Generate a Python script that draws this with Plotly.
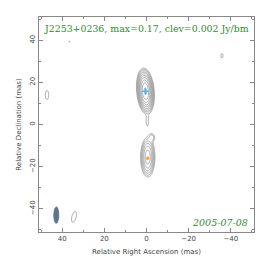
import numpy as np
import plotly.graph_objects as go

# ---- data -------------------------------------------------------------
title_text = "J2253+0236, max=0.17, clev=0.002 Jy/bm"
date_text = "2005-07-08"
clev = 0.002
level_step_log2 = 0.7

# model components (RA offset mas, Dec offset mas, peak Jy/bm, sigma minor, sigma major, PA deg)
comp_ra = [0.5, -0.4, -0.6, -2.6, 47.2, 34.4, -35.8, 36.5]
comp_dec = [15.8, 1.5, -15.5, -6.0, 14.0, -43.8, 32.6, 39.3]
comp_peak = [0.17, 0.0032, 0.032, 0.004, 0.0025, 0.0026, 0.0024, 0.0022]
comp_smin = [1.4, 0.55, 1.45, 1.0, 1.2, 1.4, 0.8, 0.6]
comp_smaj = [3.7, 2.2, 4.0, 1.3, 3.2, 3.6, 1.8, 0.6]
comp_pa = [5, 0, 0, 10, 0, -15, 0, 0]

# beam (center RA, Dec, FWHM major, minor, PA)
beam_ra = 42.8
beam_dec = -43.0
beam_maj = 8.0
beam_min = 2.6
beam_pa = 0

# peak markers
peak1_ra, peak1_dec = [0.5], [15.8]
peak2_ra, peak2_dec = [-0.6], [-16.0]

# ---- image --------------------------------------------------------------
gx = np.arange(-51, 51.01, 0.25)
gy = np.arange(-51, 51.01, 0.25)
X, Y = np.meshgrid(gx, gy)
img = np.zeros_like(X)
for ra, dec, pk, smn, smj, pa in zip(comp_ra, comp_dec, comp_peak, comp_smin, comp_smaj, comp_pa):
    t = np.deg2rad(pa)
    dx, dy = X - ra, Y - dec
    a = dx * np.sin(t) + dy * np.cos(t)
    b = dx * np.cos(t) - dy * np.sin(t)
    img += pk * np.exp(-0.5 * (a ** 2 / smj ** 2 + b ** 2 / smn ** 2))
z = np.log2(np.maximum(img, 1e-9) / clev)

fig = go.Figure()
fig.add_trace(go.Contour(
    x=gx, y=gy, z=z,
    contours=dict(start=0, end=8, size=level_step_log2, coloring="lines"),
    colorscale=[[0, "#909090"], [1, "#909090"]],
    line=dict(width=0.8), showscale=False, hoverinfo="skip",
))

# beam ellipse
th = np.linspace(0, 2 * np.pi, 80)
tb = np.deg2rad(beam_pa)
bx = beam_ra + (beam_min / 2) * np.cos(th) * np.cos(tb) + (beam_maj / 2) * np.sin(th) * np.sin(tb)
by = beam_dec - (beam_min / 2) * np.cos(th) * np.sin(tb) + (beam_maj / 2) * np.sin(th) * np.cos(tb)
fig.add_trace(go.Scatter(x=bx, y=by, mode="lines", fill="toself",
                         fillcolor="#5f738a", line=dict(color="#5f738a", width=0.5),
                         hoverinfo="skip"))

fig.add_trace(go.Scatter(x=peak1_ra, y=peak1_dec, mode="markers",
                         marker=dict(symbol="cross-thin", size=5, line=dict(color="#55b4f5", width=1.5))))
fig.add_trace(go.Scatter(x=peak2_ra, y=peak2_dec, mode="markers",
                         marker=dict(symbol="square", size=3, color="#ffa020")))

axis_common = dict(
    showgrid=False, zeroline=False, showline=True, linecolor="#888", linewidth=1,
    mirror="allticks", ticks="inside", ticklen=4, tickcolor="#888", dtick=20,
    minor=dict(dtick=10, ticks="inside", ticklen=2, tickcolor="#888"),
    tickfont=dict(family="DejaVu Sans", size=7, color="#444"),
)
fig.update_layout(
    width=264, height=262, margin=dict(l=31, r=18, t=9, b=38),
    paper_bgcolor="white", plot_bgcolor="white", showlegend=False,
    xaxis=dict(range=[51, -51], title=dict(text="Relative Right Ascension (mas)",
               font=dict(family="DejaVu Sans", size=7, color="#444"), standoff=6), **axis_common),
    yaxis=dict(range=[-51, 51], tickangle=-90, title=dict(text="Relative Declination (mas)",
               font=dict(family="DejaVu Sans", size=7, color="#444"), standoff=6), **axis_common),
    annotations=[
        dict(text=title_text, xref="paper", yref="paper", x=0.5, y=0.945, showarrow=False,
             xanchor="center", yanchor="middle",
             font=dict(family="DejaVu Serif", size=9.4, color="#2e8b2e")),
        dict(text="<i>" + date_text + "</i>", xref="paper", yref="paper", x=0.981, y=0.045,
             showarrow=False, xanchor="right", yanchor="middle",
             font=dict(family="DejaVu Serif", size=9.5, color="#2e8b2e")),
    ],
)
fig.write_html("out.html")
